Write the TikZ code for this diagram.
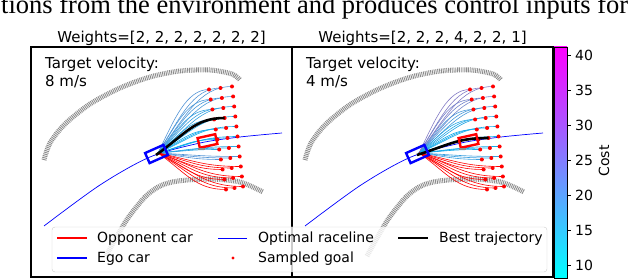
\documentclass[tikz,border=0pt]{standalone}
\usepackage{fontspec}
\setmainfont{DejaVu Sans}
\newfontfamily\paperfont{Liberation Serif}

% goal (row \r, column \c) and the two control points of its path
\newcommand{\goalpos}{%
  \pgfmathsetmacro\gx{209+11.5*\c+\r*(1.7-0.3*\c)}%
  \pgfmathsetmacro\gy{88+10*\r-1.5*(\c-1)}%
  \pgfmathsetmacro\ang{1.25*atan2(\gy-153,\gx-158)}%
  \pgfmathsetmacro\len{0.45*veclen(\gx-158,\gy-153)}%
  \pgfmathsetmacro\ax{158+\len*cos(\ang)}%
  \pgfmathsetmacro\ay{153+\len*sin(\ang)}%
  \pgfmathsetmacro\bx{\gx-0.45*(\gx-158)}%
}

% track edges, raceline
\newcommand{\racetrack}{%
  \draw[track edge] plot[smooth] coordinates {(44,160) (50,143) (65,124) (90,104) (120,88) (150,77) (180,71) (210,70) (232,74) (240,80)};
  \draw[track edge] plot[smooth] coordinates {(106,256) (116,238) (128,218) (145,197) (160,186) (178,181) (210,179) (240,182) (263,192)};
  \draw[raceline] plot[smooth] coordinates {(44,226) (100,185) (150,157) (200,143) (240,137) (282,133)};
}

% sampled paths: #1 = row/cost list, #2 #3 = row and column of the best one
\newcommand{\goalfan}[3]{%
  \foreach \r/\cost in {#1} {
    \ifnum\cost<0 \colorlet{fancol}{red}\else\colorlet{fancol}{magenta!\cost!cyan}\fi
    \foreach \c in {0,1,2} {
      \goalpos
      \draw[cand path, fancol] (158,153) .. controls (\ax,\ay) and (\bx,\gy) .. (\gx,\gy);
    }
  }
  \foreach \r in {0,...,10} \foreach \c in {0,1,2} {
    \goalpos
    \fill[red] (\gx,\gy) circle[radius=2pt];
  }
  \def\r{#2}\def\c{#3}\goalpos
  \draw[best path] (156,155) .. controls (\ax,\ay) and (\bx,\gy) .. (\gx,\gy);
  \draw[car box, blue] (145.1,153.05) -- (163.4,144.9) -- (167.9,154.95) -- (149.6,163.1) -- cycle;
  \draw[car box, red] (197.6,138.1) -- (215.2,134.2) -- (217.4,143.9) -- (199.8,147.8) -- cycle;
  \draw[black!45, line width=2pt] (198,149) -- (205,149);
}

\begin{document}
\begin{tikzpicture}[
    x=1pt, y=-1pt,
    label text/.style={font=\fontsize{14}{18}\selectfont, inner sep=0pt},
    title text/.style={font=\fontsize{15}{18}\selectfont, inner sep=0pt},
    track edge/.style={line width=5pt, black!45, dash pattern=on 0.9pt off 0.9pt},
    raceline/.style={blue, line width=0.7pt},
    car box/.style={line width=2.4pt, line join=miter},
    cand path/.style={line width=0.6pt},
    best path/.style={black, line width=2.6pt},
    frame/.style={draw=black, line width=1.1pt}
    ]
    \useasboundingbox (0,0) rectangle (640,280);
    
    \node[font={\paperfont\fontsize{26.5}{28}\selectfont}, anchor=base west, inner sep=0pt] (caption) at (1,14)
    {tions from the environment and produces control inputs for};
    
    % left panel
    \racetrack
    \goalfan{0/30,1/26,2/18,3/12,4/6,5/4,6/14,7/30,8/-1,9/-1,10/-1}{3}{1}
    
    % right panel
    \begin{scope}[xshift=261pt]
      \racetrack
      \goalfan{0/48,1/42,2/26,3/12,4/6,5/3,6/6,7/20,8/-1,9/-1,10/-1}{5}{1}
    \end{scope}
    
    \draw[frame] (31,47) rectangle (292,277);
    \draw[frame] (292,47) rectangle (553,277);
    
    \node[title text] (title left) at (161.5,38) {Weights=[2, 2, 2, 2, 2, 2, 2]};
    \node[title text] (title right) at (422.5,38) {Weights=[2, 2, 2, 4, 2, 2, 1]};
    \node[title text, anchor=north west, align=left] (speed left) at (45,56.5) {Target velocity:\\8 m/s};
    \node[title text, anchor=north west, align=left] (speed right) at (306,56.5) {Target velocity:\\4 m/s};
    
    % colour bar
    \shade[bottom color=cyan, top color=magenta] (554,47) rectangle (567,278);
    \draw[line width=0.9pt] (554,47) rectangle (567,278);
    \foreach \v in {10,15,...,40} {
      \draw[line width=0.9pt] (567,{265-(\v-10)*7}) -- (571,{265-(\v-10)*7});
      \node[label text, anchor=west] (tick \v) at (575,{265-(\v-10)*7}) {\v};
    }
    \node[label text, rotate=90] (cost) at (604,161) {Cost};
    
    % legend
    \draw[black!20, fill=white, fill opacity=0.8, rounded corners=3pt] (52,227) rectangle (547,272);
    \draw[red, line width=2.6pt] (57,238) -- (87,238);
    \node[label text, anchor=base west] (opp) at (97,243) {Opponent car};
    \draw[blue, line width=2.6pt] (57,258) -- (87,258);
    \node[label text, anchor=base west] (ego) at (97,263) {Ego car};
    \draw[raceline] (218,238) -- (247,238);
    \node[label text, anchor=base west] (line) at (258,243) {Optimal raceline};
    \fill[red] (233,258) circle[radius=1.6pt];
    \node[label text, anchor=base west] (goal) at (258,263) {Sampled goal};
    \draw[black, line width=1.6pt] (398,238) -- (428,238);
    \node[label text, anchor=base west] (best) at (439,243) {Best trajectory};
\end{tikzpicture}
\end{document}
